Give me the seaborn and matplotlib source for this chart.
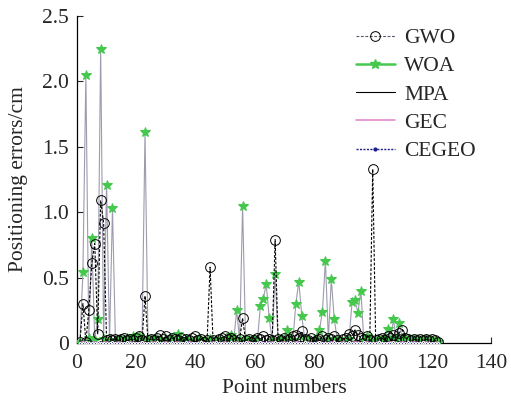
import numpy as np
import pandas as pd
import seaborn as sns
import matplotlib
matplotlib.use("Agg")
import matplotlib.pyplot as plt
from matplotlib.lines import Line2D

sns.set_style("ticks")
plt.rcParams['font.family'] = ['Liberation Serif', 'DejaVu Serif']
plt.rcParams['mathtext.fontset'] = 'stix'

# ---------------- data ----------------
point_numbers = list(range(1, 123))

gwo = [0.01, 0.30, 0.01, 0.25, 0.61, 0.76, 0.07, 1.09, 0.92, 0.02,
       0.03, 0.02, 0.03, 0.02, 0.03, 0.04, 0.02, 0.03, 0.02, 0.04,
       0.05, 0.02, 0.36, 0.02, 0.03, 0.02, 0.04, 0.06, 0.03, 0.05,
       0.02, 0.04, 0.03, 0.02, 0.04, 0.01, 0.03, 0.02, 0.04, 0.05,
       0.02, 0.03, 0.01, 0.02, 0.58, 0.02, 0.01, 0.03, 0.04, 0.05,
       0.03, 0.04, 0.02, 0.01, 0.03, 0.19, 0.02, 0.03, 0.01, 0.02,
       0.04, 0.03, 0.05, 0.02, 0.03, 0.02, 0.79, 0.03, 0.02, 0.04,
       0.02, 0.03, 0.05, 0.06, 0.04, 0.09, 0.03, 0.02, 0.04, 0.01,
       0.02, 0.03, 0.05, 0.02, 0.04, 0.03, 0.05, 0.02, 0.01, 0.03,
       0.04, 0.07, 0.05, 0.10, 0.06, 0.04, 0.03, 0.05, 0.02, 1.33,
       0.02, 0.03, 0.04, 0.02, 0.05, 0.04, 0.06, 0.03, 0.08, 0.10,
       0.04, 0.03, 0.02, 0.03, 0.02, 0.03, 0.02, 0.03, 0.02, 0.03,
       0.02, 0.01]

woa = [0.01, 0.54, 2.05, 0.04, 0.80, 0.02, 0.185, 2.25, 0.03, 1.21,
       0.02, 1.03, 0.01, 0.02, 0.03, 0.02, 0.04, 0.03, 0.05, 0.04,
       0.05, 0.03, 1.61, 0.02, 0.03, 0.02, 0.03, 0.02, 0.01, 0.03,
       0.02, 0.04, 0.02, 0.07, 0.02, 0.01, 0.03, 0.02, 0.01, 0.02,
       0.03, 0.02, 0.01, 0.02, 0.03, 0.01, 0.02, 0.03, 0.02, 0.01,
       0.03, 0.06, 0.02, 0.25, 0.02, 1.05, 0.03, 0.02, 0.01, 0.03,
       0.02, 0.28, 0.34, 0.45, 0.19, 0.02, 0.53, 0.02, 0.03, 0.02,
       0.10, 0.03, 0.02, 0.30, 0.47, 0.21, 0.03, 0.02, 0.01, 0.03,
       0.02, 0.10, 0.24, 0.63, 0.03, 0.49, 0.18, 0.03, 0.02, 0.01,
       0.02, 0.03, 0.31, 0.33, 0.23, 0.40, 0.02, 0.05, 0.03, 0.02,
       0.01, 0.03, 0.02, 0.04, 0.11, 0.02, 0.18, 0.03, 0.15, 0.04,
       0.02, 0.03, 0.01, 0.02, 0.03, 0.01, 0.02, 0.03, 0.02, 0.01,
       0.02, 0.01]

mpa = [0.01, 0.00, 0.01, 0.02, 0.01, 0.00, 0.01, 0.01, 0.00, 0.01,
       0.01, 0.00, 0.01, 0.01, 0.00, 0.01, 0.02, 0.01, 0.00, 0.01,
       0.01, 0.00, 0.01, 0.01, 0.00, 0.01, 0.01, 0.00, 0.01, 0.02,
       0.01, 0.00, 0.01, 0.01, 0.00, 0.01, 0.01, 0.00, 0.01, 0.01,
       0.00, 0.01, 0.02, 0.01, 0.00, 0.01, 0.01, 0.00, 0.01, 0.01,
       0.00, 0.01, 0.01, 0.00, 0.01, 0.02, 0.01, 0.00, 0.01, 0.01,
       0.00, 0.01, 0.01, 0.00, 0.01, 0.01, 0.00, 0.01, 0.02, 0.01,
       0.00, 0.01, 0.01, 0.00, 0.01, 0.01, 0.00, 0.01, 0.01, 0.00,
       0.01, 0.02, 0.01, 0.00, 0.01, 0.01, 0.00, 0.01, 0.01, 0.00,
       0.01, 0.01, 0.00, 0.01, 0.02, 0.01, 0.00, 0.01, 0.01, 0.00,
       0.01, 0.01, 0.00, 0.01, 0.01, 0.00, 0.01, 0.02, 0.01, 0.00,
       0.01, 0.01, 0.00, 0.01, 0.01, 0.00, 0.01, 0.01, 0.00, 0.01,
       0.01, 0.00]

gec = [0.005, 0.010, 0.005, 0.000, 0.005, 0.010, 0.005, 0.000, 0.005, 0.010,
       0.005, 0.000, 0.005, 0.010, 0.005, 0.000, 0.005, 0.010, 0.005, 0.000,
       0.005, 0.010, 0.005, 0.000, 0.005, 0.010, 0.005, 0.000, 0.005, 0.010,
       0.005, 0.000, 0.005, 0.010, 0.005, 0.000, 0.005, 0.010, 0.005, 0.000,
       0.005, 0.010, 0.005, 0.000, 0.005, 0.010, 0.005, 0.000, 0.005, 0.010,
       0.005, 0.000, 0.005, 0.010, 0.005, 0.000, 0.005, 0.010, 0.005, 0.000,
       0.005, 0.010, 0.005, 0.000, 0.005, 0.010, 0.005, 0.000, 0.005, 0.010,
       0.005, 0.000, 0.005, 0.010, 0.005, 0.000, 0.005, 0.010, 0.005, 0.000,
       0.005, 0.010, 0.005, 0.000, 0.005, 0.010, 0.005, 0.000, 0.005, 0.010,
       0.005, 0.000, 0.005, 0.010, 0.005, 0.000, 0.005, 0.010, 0.005, 0.000,
       0.005, 0.010, 0.005, 0.000, 0.005, 0.010, 0.005, 0.000, 0.005, 0.010,
       0.005, 0.000, 0.005, 0.010, 0.005, 0.000, 0.005, 0.010, 0.005, 0.000,
       0.005, 0.010]

cegeo = [0.003, 0.002, 0.004, 0.003, 0.002, 0.003, 0.004, 0.002, 0.003, 0.002,
         0.003, 0.004, 0.002, 0.003, 0.002, 0.003, 0.004, 0.002, 0.003, 0.002,
         0.003, 0.004, 0.002, 0.003, 0.002, 0.003, 0.004, 0.002, 0.003, 0.002,
         0.003, 0.004, 0.002, 0.003, 0.002, 0.003, 0.004, 0.002, 0.003, 0.002,
         0.003, 0.004, 0.002, 0.003, 0.002, 0.003, 0.004, 0.002, 0.003, 0.002,
         0.003, 0.004, 0.002, 0.003, 0.002, 0.003, 0.004, 0.002, 0.003, 0.002,
         0.003, 0.004, 0.002, 0.003, 0.002, 0.003, 0.004, 0.002, 0.003, 0.002,
         0.003, 0.004, 0.002, 0.003, 0.002, 0.003, 0.004, 0.002, 0.003, 0.002,
         0.003, 0.004, 0.002, 0.003, 0.002, 0.003, 0.004, 0.002, 0.003, 0.002,
         0.003, 0.004, 0.002, 0.003, 0.002, 0.003, 0.004, 0.002, 0.003, 0.002,
         0.003, 0.004, 0.002, 0.003, 0.002, 0.003, 0.004, 0.002, 0.003, 0.002,
         0.003, 0.004, 0.002, 0.003, 0.002, 0.003, 0.004, 0.002, 0.003, 0.002,
         0.003, 0.002]

x_ticks = [0, 20, 40, 60, 80, 100, 120, 140]
y_ticks = [0, 0.5, 1.0, 1.5, 2.0, 2.5]
y_tick_labels = ["0", "0.5", "1.0", "1.5", "2.0", "2.5"]

# ---------------- plot ----------------
fig = plt.figure(figsize=(5.11, 4.03), dpi=100)
ax = fig.add_axes([77/511, 1-343/403, (491-77)/511, (343-16)/403])

GREEN = "#46c84f"
FS = 15.5

sns.lineplot(x=point_numbers, y=woa, ax=ax, color="#9c9cae", lw=0.8,
             marker="*", markersize=7, markerfacecolor=GREEN,
             markeredgecolor=GREEN, zorder=3)
sns.lineplot(x=point_numbers, y=gwo, ax=ax, color="black", lw=0.8,
             linestyle=(0, (2.5, 1.5)), marker="o", markersize=7,
             markerfacecolor="none", markeredgecolor="black",
             markeredgewidth=0.7, zorder=4)
sns.lineplot(x=point_numbers, y=mpa, ax=ax, color="black", lw=0.7, zorder=5)
sns.lineplot(x=point_numbers, y=gec, ax=ax, color="#e58ccc", lw=0.8, zorder=5)
sns.lineplot(x=point_numbers, y=cegeo, ax=ax, color="#1c1c8c", lw=1.0,
             linestyle=(0, (1.5, 1)), marker="o", markersize=1.5, zorder=6)

ax.set_xlim(0, 140)
ax.set_ylim(0, 2.5)
ax.set_xticks(x_ticks)
ax.set_xticklabels([str(t) for t in x_ticks])
ax.set_yticks(y_ticks)
ax.set_yticklabels(y_tick_labels)
ax.tick_params(direction="in", length=4, width=0.8, labelsize=FS)
ax.tick_params(axis="x", pad=8)
ax.tick_params(axis="y", pad=6)
for s in ["top", "right"]:
    ax.spines[s].set_visible(False)
for s in ["left", "bottom"]:
    ax.spines[s].set_linewidth(0.9)
    ax.spines[s].set_color("black")

ax.set_xlabel("Point numbers", fontsize=FS, labelpad=4)
ax.set_ylabel("Positioning errors/cm", fontsize=FS, labelpad=10)

handles = [
    Line2D([], [], color="#555566", lw=0.8, linestyle=(0, (2.5, 1.5)),
           marker="o", markersize=7, markerfacecolor="none",
           markeredgecolor="black", markeredgewidth=0.7),
    Line2D([], [], color=GREEN, lw=1.8, marker="*", markersize=7,
           markerfacecolor=GREEN, markeredgecolor=GREEN),
    Line2D([], [], color="black", lw=0.8),
    Line2D([], [], color="#e58ccc", lw=1.2),
    Line2D([], [], color="#1c1c8c", lw=1.0, linestyle=(0, (1.5, 1)),
           marker="o", markersize=2, markevery=[1]),
]
labels = ["GWO", "WOA", "MPA", "GEC", "CEGEO"]
leg = ax.legend(handles, labels, loc="upper left",
                bbox_to_anchor=(356/511, 1-28/403), bbox_transform=fig.transFigure,
                frameon=False, fontsize=FS, handlelength=1.8,
                handletextpad=0.45, labelspacing=0.38, borderpad=0,
                borderaxespad=0)

fig.savefig("out.png", dpi=100)
